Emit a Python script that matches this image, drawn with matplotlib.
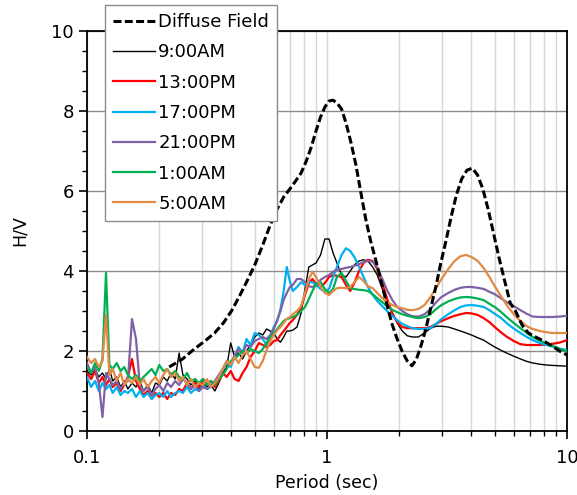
import numpy as np
import matplotlib
matplotlib.use('Agg')
import matplotlib.pyplot as plt
from matplotlib.ticker import MultipleLocator, LogLocator, NullFormatter, FixedLocator

plt.rcParams['font.family'] = ['DejaVu Sans']

# period axis (sec): noisy short-period part, then the smooth part
period_lo = [0.100, 0.104, 0.108, 0.112, 0.116, 0.120, 0.124, 0.128, 0.133, 0.138,
             0.143, 0.148, 0.154, 0.160, 0.166, 0.172, 0.179, 0.186, 0.193, 0.200,
             0.208, 0.216, 0.224, 0.233, 0.242, 0.251, 0.261, 0.271, 0.282, 0.293,
             0.304, 0.316, 0.328, 0.341, 0.354, 0.368, 0.382, 0.397, 0.412, 0.428,
             0.445, 0.462, 0.480, 0.500]
period_hi = [0.52, 0.54, 0.56, 0.58, 0.60, 0.62, 0.64, 0.66, 0.68, 0.70,
             0.72, 0.75, 0.78, 0.81, 0.84, 0.87, 0.90, 0.94, 0.98, 1.02,
             1.06, 1.10, 1.15, 1.20, 1.25, 1.30, 1.36, 1.42, 1.48, 1.55,
             1.62, 1.70, 1.78, 1.87, 1.96, 2.06, 2.16, 2.27, 2.40, 2.55,
             2.70, 2.85, 3.0, 3.2, 3.4, 3.6, 3.8, 4.0, 4.25, 4.5,
             4.75, 5.0, 5.3, 5.6, 6.0, 6.4, 6.8, 7.2, 7.7, 8.2,
             8.7, 9.3, 10.0]
period = period_lo + period_hi

hv_0900 = [1.50, 1.40, 1.55, 1.35, 1.45, 1.30, 1.55, 1.25, 1.35, 1.10,
           1.25, 1.05, 1.20, 1.10, 1.25, 1.00, 1.15, 0.95, 1.20, 1.15,
           1.35, 1.25, 1.45, 1.30, 1.95, 1.40, 1.30, 1.15, 1.25, 1.05,
           1.20, 1.10, 1.15, 1.00, 1.20, 1.45, 1.60, 2.20, 1.85, 1.95,
           1.80, 2.00, 2.15, 2.35,
           2.45, 2.40, 2.55, 2.50, 2.45, 2.30, 2.22, 2.35, 2.50, 2.50,
           2.52, 2.60, 2.95, 3.55, 4.10, 4.15, 4.20, 4.40, 4.80, 4.80,
           4.45, 4.20, 3.90, 3.85, 4.00, 4.15, 4.25, 4.28, 4.25, 4.10,
           3.90, 3.55, 3.25, 2.95, 2.70, 2.50, 2.38, 2.35, 2.35, 2.45,
           2.57, 2.62, 2.62, 2.60, 2.55, 2.50, 2.45, 2.40, 2.33, 2.27,
           2.18, 2.10, 2.02, 1.95, 1.87, 1.80, 1.74, 1.70, 1.67, 1.65,
           1.64, 1.63, 1.62]

hv_1300 = [1.45, 1.30, 1.50, 1.20, 1.35, 1.15, 1.30, 1.10, 1.20, 1.00,
           1.15, 1.35, 1.80, 1.25, 1.05, 0.90, 1.00, 0.80, 0.95, 0.85,
           0.95, 0.80, 0.95, 0.90, 1.05, 1.00, 1.20, 1.05, 1.20, 1.10,
           1.30, 1.15, 1.25, 1.10, 1.25, 1.45, 1.35, 1.50, 1.30, 1.25,
           1.45, 1.60, 1.85, 2.00,
           2.20, 2.15, 2.10, 2.15, 2.25, 2.27, 2.40, 2.50, 2.60, 2.70,
           2.77, 2.90, 3.10, 3.40, 3.70, 3.80, 3.68, 3.60, 3.70, 3.85,
           3.90, 3.88, 3.85, 3.65, 3.50, 3.70, 4.00, 4.20, 4.28, 4.25,
           4.05, 3.70, 3.30, 2.95, 2.72, 2.60, 2.57, 2.57, 2.57, 2.57,
           2.60, 2.68, 2.75, 2.82, 2.88, 2.92, 2.95, 2.94, 2.90, 2.82,
           2.72, 2.60, 2.47, 2.36, 2.25, 2.17, 2.15, 2.15, 2.15, 2.16,
           2.18, 2.21, 2.27]

hv_1700 = [1.35, 1.10, 1.25, 1.00, 1.20, 1.05, 1.15, 0.95, 1.10, 0.90,
           1.00, 0.95, 1.05, 0.85, 1.00, 0.85, 0.95, 0.80, 0.90, 0.95,
           0.85, 1.00, 0.85, 0.95, 1.00, 0.95, 1.10, 0.95, 1.05, 1.00,
           1.15, 1.05, 1.10, 1.20, 1.35, 1.55, 1.70, 1.60, 1.85, 2.10,
           1.95, 2.30, 2.15, 2.45,
           2.40, 2.30, 2.15, 2.35, 2.60, 2.75, 3.05, 3.50, 4.10, 3.75,
           3.50, 3.60, 3.72, 3.65, 3.72, 3.72, 3.65, 3.55, 3.48, 3.55,
           3.85, 4.10, 4.40, 4.57, 4.50, 4.35, 4.10, 3.85, 3.60, 3.40,
           3.25, 3.12, 3.00, 2.88, 2.77, 2.68, 2.62, 2.57, 2.55, 2.55,
           2.58, 2.68, 2.80, 2.92, 3.02, 3.10, 3.14, 3.15, 3.13, 3.10,
           3.02, 2.93, 2.83, 2.70, 2.56, 2.45, 2.35, 2.27, 2.20, 2.15,
           2.11, 2.06, 2.02]

hv_2100 = [1.70, 1.45, 1.60, 1.20, 0.35, 1.45, 1.30, 1.15, 1.25, 1.05,
           1.20, 1.25, 2.80, 2.30, 1.15, 1.00, 1.10, 0.90, 1.05, 1.15,
           1.00, 1.20, 1.10, 1.25, 1.15, 1.30, 1.20, 1.05, 1.15, 1.00,
           1.10, 1.05, 1.15, 1.25, 1.40, 1.55, 1.75, 1.65, 1.90, 2.05,
           1.95, 2.15, 2.10, 2.25,
           2.30, 2.35, 2.30, 2.40, 2.55, 2.77, 3.00, 3.28, 3.45, 3.60,
           3.65, 3.80, 3.80, 3.72, 3.62, 3.60, 3.65, 3.78, 3.85, 3.90,
           3.98, 4.03, 4.05, 4.08, 4.10, 4.13, 4.17, 4.22, 4.25, 4.23,
           4.10, 3.80, 3.52, 3.28, 3.10, 3.00, 2.92, 2.87, 2.86, 2.92,
           3.05, 3.22, 3.35, 3.45, 3.53, 3.58, 3.60, 3.60, 3.58, 3.55,
           3.48, 3.42, 3.32, 3.22, 3.12, 3.02, 2.93, 2.86, 2.85, 2.85,
           2.85, 2.86, 2.88]

hv_0100 = [1.60, 1.45, 1.70, 1.50, 1.80, 3.95, 1.65, 1.55, 1.70, 1.50,
           1.60, 1.40, 1.30, 1.40, 1.25, 1.35, 1.45, 1.55, 1.40, 1.65,
           1.50, 1.55, 1.40, 1.50, 1.35, 1.30, 1.45, 1.25, 1.30, 1.20,
           1.30, 1.15, 1.25, 1.15, 1.30, 1.40, 1.55, 1.75, 1.80, 1.90,
           2.00, 1.95, 2.05, 2.00,
           1.95, 2.05, 2.20, 2.35, 2.45, 2.55, 2.65, 2.75, 2.80, 2.82,
           2.85, 2.90, 3.00, 3.10, 3.30, 3.50, 3.68, 3.72, 3.55, 3.45,
           3.55, 3.85, 3.95, 3.75, 3.57, 3.55, 3.53, 3.52, 3.50, 3.42,
           3.32, 3.22, 3.12, 3.03, 2.97, 2.92, 2.88, 2.85, 2.82, 2.85,
           2.92, 3.05, 3.15, 3.24, 3.30, 3.34, 3.35, 3.34, 3.31, 3.27,
           3.18, 3.10, 2.98, 2.85, 2.70, 2.57, 2.45, 2.35, 2.26, 2.19,
           2.13, 2.06, 1.98]

hv_0500 = [1.85, 1.70, 1.80, 1.60, 1.75, 2.90, 1.40, 1.55, 1.25, 1.45,
           1.15, 1.30, 1.20, 1.35, 1.15, 1.30, 1.10, 1.25, 1.35, 1.20,
           1.40, 1.55, 1.35, 1.45, 1.25, 1.35, 1.15, 1.30, 1.10, 1.20,
           1.15, 1.30, 1.10, 1.20, 1.35, 1.55, 1.75, 1.65, 1.85, 1.70,
           1.90, 2.00, 1.80, 1.60,
           1.58, 1.75, 2.02, 2.25, 2.40, 2.52, 2.60, 2.70, 2.80, 2.85,
           2.92, 3.00, 3.12, 3.45, 3.80, 3.98, 3.85, 3.60, 3.45, 3.40,
           3.50, 3.57, 3.58, 3.57, 3.60, 3.72, 3.85, 3.75, 3.62, 3.57,
           3.45, 3.32, 3.22, 3.15, 3.10, 3.07, 3.03, 3.02, 3.05, 3.15,
           3.35, 3.58, 3.80, 4.05, 4.25, 4.37, 4.40, 4.35, 4.25, 4.07,
           3.85, 3.62, 3.38, 3.15, 2.92, 2.75, 2.62, 2.55, 2.50, 2.47,
           2.45, 2.45, 2.45]

# diffuse field theory curve
period_df = [0.22, 0.25, 0.28, 0.31, 0.34, 0.37, 0.40, 0.43, 0.46, 0.50,
             0.54, 0.58, 0.62, 0.66, 0.70, 0.74, 0.78, 0.82, 0.86, 0.90,
             0.94, 0.98, 1.02, 1.06, 1.10, 1.15, 1.20, 1.26, 1.32, 1.38,
             1.45, 1.52, 1.60, 1.68, 1.77, 1.86, 1.96, 2.06, 2.16, 2.26,
             2.36, 2.47, 2.58, 2.70, 2.84, 2.98, 3.13, 3.29, 3.46, 3.64,
             3.83, 4.03, 4.24, 4.46, 4.69, 4.94, 5.2, 5.5, 5.8, 6.1,
             6.5, 6.9, 7.4, 8.0, 8.7, 9.3, 10.0]
hv_df = [1.60, 1.80, 2.05, 2.25, 2.45, 2.70, 3.00, 3.35, 3.70, 4.15,
         4.65, 5.15, 5.55, 5.85, 6.05, 6.25, 6.45, 6.75, 7.10, 7.50,
         7.85, 8.10, 8.25, 8.27, 8.20, 8.05, 7.70, 7.20, 6.65, 6.00,
         5.30, 4.75, 4.25, 3.75, 3.20, 2.70, 2.30, 1.98, 1.75, 1.63,
         1.80, 2.15, 2.55, 3.05, 3.60, 4.20, 4.75, 5.35, 5.90, 6.30,
         6.52, 6.57, 6.40, 6.05, 5.55, 4.95, 4.35, 3.75, 3.20, 3.00,
         2.65, 2.45, 2.35, 2.25, 2.12, 2.00, 1.90]

series = [
    ('9:00AM', hv_0900, '#000000', 1.0),
    ('13:00PM', hv_1300, '#ff0000', 1.6),
    ('17:00PM', hv_1700, '#00b0f0', 1.6),
    ('21:00PM', hv_2100, '#7f62a6', 1.6),
    ('1:00AM', hv_0100, '#00b050', 1.6),
    ('5:00AM', hv_0500, '#e08a44', 1.6),
]

fig = plt.figure(figsize=(5.77, 4.95), dpi=100)
ax = fig.add_axes([87 / 577, 1 - 431 / 495, 480 / 577, 400 / 495])

handles = []
df_line, = ax.plot(period_df, hv_df, color='black', lw=2.2, dashes=(2.6, 1.1),
                   label='Diffuse Field', zorder=5)
handles.append(df_line)
for name, vals, col, lw in series:
    ln, = ax.plot(period, vals, color=col, lw=lw, label=name, zorder=3)
    handles.append(ln)

ax.set_xscale('log')
ax.set_xlim(0.1, 10)
ax.set_ylim(0, 10)
ax.xaxis.set_major_locator(FixedLocator([0.1, 1, 10]))
ax.set_xticklabels(['0.1', '1', '10'])
ax.xaxis.set_minor_locator(LogLocator(base=10, subs=range(2, 10)))
ax.xaxis.set_minor_formatter(NullFormatter())
ax.yaxis.set_major_locator(MultipleLocator(2))
ax.yaxis.set_minor_locator(MultipleLocator(0.5))

ax.set_axisbelow(True)
ax.yaxis.grid(True, which='major', color='#8c8c8c', lw=1.0)
ax.xaxis.grid(True, which='both', color='#d6d6d6', lw=1.0)

ax.tick_params(which='major', direction='out', length=6, width=1.2,
               labelsize=13, color='black')
ax.tick_params(axis='x', which='major', pad=7)
ax.tick_params(which='minor', direction='out', length=3.5, width=1.0, color='black')
for s in ax.spines.values():
    s.set_linewidth(1.3)
    s.set_color('black')

ax.set_xlabel('Period (sec)', fontsize=12.5, labelpad=5)
ax.set_ylabel('H/V', fontsize=12.5, labelpad=16)

leg = ax.legend(handles=handles, loc='upper left',
                bbox_to_anchor=(105 / 577, 1 - 5 / 495),
                bbox_transform=fig.transFigure, borderaxespad=0,
                fontsize=13, handlelength=2.3, handletextpad=0.2,
                labelspacing=0.68, borderpad=0.45, fancybox=False,
                framealpha=1, edgecolor='#8c8c8c')
leg.get_frame().set_linewidth(1.0)
leg.set_zorder(10)

fig.savefig('out.png', dpi=100)
